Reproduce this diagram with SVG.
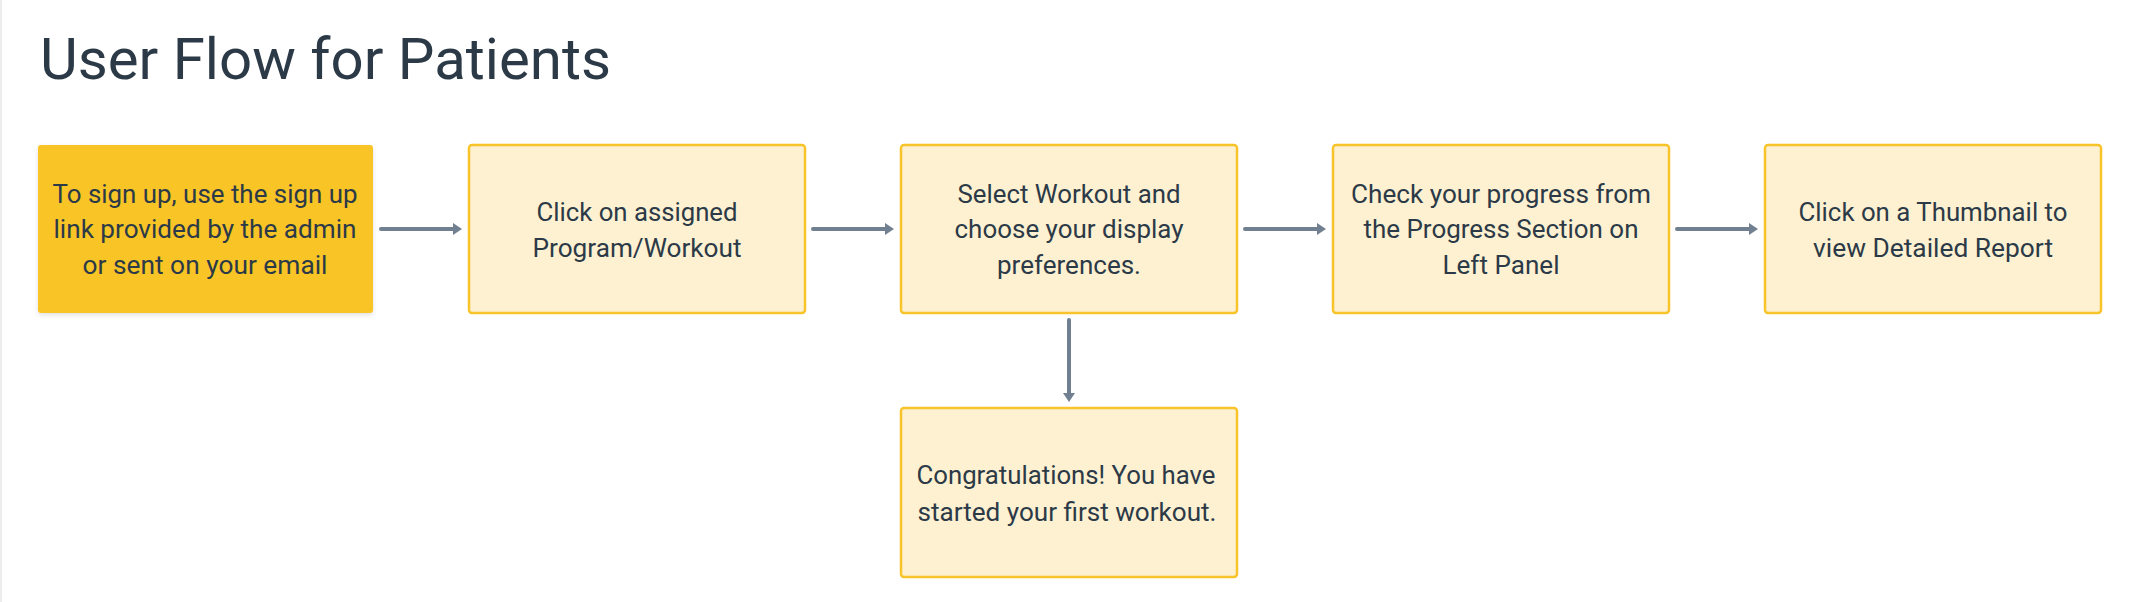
<svg xmlns="http://www.w3.org/2000/svg" width="2135" height="602" viewBox="0 0 2135 602">
  <style>
    .title { font-family: "Roboto", "Liberation Sans", sans-serif; font-size: 58px; fill: #2c3a48; }
    .lbl { font-family: "Roboto", "Liberation Sans", sans-serif; font-size: 25px; fill: #2c3a48; text-anchor: middle; }
    .box { fill: #fdf1d1; stroke: #f8c42a; stroke-width: 2.5; }
    .start { fill: #f8c428; }
    .conn { stroke: #708090; stroke-width: 4; stroke-linecap: round; fill: none; }
  </style>
  <defs>
    <marker id="ah" markerUnits="userSpaceOnUse" markerWidth="10" markerHeight="12" refX="2" refY="6" orient="auto">
      <path d="M0,0 L9,6 L0,12 Z" fill="#708090"/>
    </marker>
    <filter id="sh" x="-10%" y="-10%" width="120%" height="130%">
      <feDropShadow dx="0" dy="2" stdDeviation="2.5" flood-color="#000" flood-opacity="0.12"/>
    </filter>
  </defs>
  <rect x="0" y="0" width="2135" height="602" fill="#ffffff"/>
  <rect x="0" y="0" width="2" height="602" fill="#ececec"/>

  <text class="title" x="40" y="79" textLength="571" lengthAdjust="spacingAndGlyphs">User Flow for Patients</text>

  <g id="connectors">
    <line class="conn" x1="381" y1="229" x2="455" y2="229" marker-end="url(#ah)"/>
    <line class="conn" x1="813" y1="229" x2="887" y2="229" marker-end="url(#ah)"/>
    <line class="conn" x1="1245" y1="229" x2="1319" y2="229" marker-end="url(#ah)"/>
    <line class="conn" x1="1677" y1="229" x2="1751" y2="229" marker-end="url(#ah)"/>
    <line class="conn" x1="1069" y1="320" x2="1069" y2="395" marker-end="url(#ah)"/>
  </g>

  <g id="node-signup">
    <rect class="start" x="38" y="145" width="335" height="168" rx="3" filter="url(#sh)"/>
    <text class="lbl" x="205" y="203" textLength="305" lengthAdjust="spacingAndGlyphs">To sign up, use the sign up</text>
    <text class="lbl" x="205" y="238" textLength="303" lengthAdjust="spacingAndGlyphs">link provided by the admin</text>
    <text class="lbl" x="205" y="274" textLength="245" lengthAdjust="spacingAndGlyphs">or sent on your email</text>
  </g>

  <g id="node-program">
    <rect class="box" x="469" y="145" width="336" height="168" rx="3"/>
    <text class="lbl" x="637" y="221" textLength="201" lengthAdjust="spacingAndGlyphs">Click on assigned</text>
    <text class="lbl" x="637" y="257" textLength="209" lengthAdjust="spacingAndGlyphs">Program/Workout</text>
  </g>

  <g id="node-select">
    <rect class="box" x="901" y="145" width="336" height="168" rx="3"/>
    <text class="lbl" x="1069" y="203" textLength="223" lengthAdjust="spacingAndGlyphs">Select Workout and</text>
    <text class="lbl" x="1069" y="238" textLength="229" lengthAdjust="spacingAndGlyphs">choose your display</text>
    <text class="lbl" x="1069" y="274" textLength="144" lengthAdjust="spacingAndGlyphs">preferences.</text>
  </g>

  <g id="node-progress">
    <rect class="box" x="1333" y="145" width="336" height="168" rx="3"/>
    <text class="lbl" x="1501" y="203" textLength="300" lengthAdjust="spacingAndGlyphs">Check your progress from</text>
    <text class="lbl" x="1501" y="238" textLength="275" lengthAdjust="spacingAndGlyphs">the Progress Section on</text>
    <text class="lbl" x="1501" y="274" textLength="117" lengthAdjust="spacingAndGlyphs">Left Panel</text>
  </g>

  <g id="node-thumbnail">
    <rect class="box" x="1765" y="145" width="336" height="168" rx="3"/>
    <text class="lbl" x="1933" y="221" textLength="269" lengthAdjust="spacingAndGlyphs">Click on a Thumbnail to</text>
    <text class="lbl" x="1933" y="257" textLength="240" lengthAdjust="spacingAndGlyphs">view Detailed Report</text>
  </g>

  <g id="node-congrats">
    <rect class="box" x="901" y="408" width="336" height="169" rx="3"/>
    <text class="lbl" x="1066" y="484" textLength="299" lengthAdjust="spacingAndGlyphs">Congratulations! You have</text>
    <text class="lbl" x="1067" y="521" textLength="299" lengthAdjust="spacingAndGlyphs">started your first workout.</text>
  </g>
</svg>
